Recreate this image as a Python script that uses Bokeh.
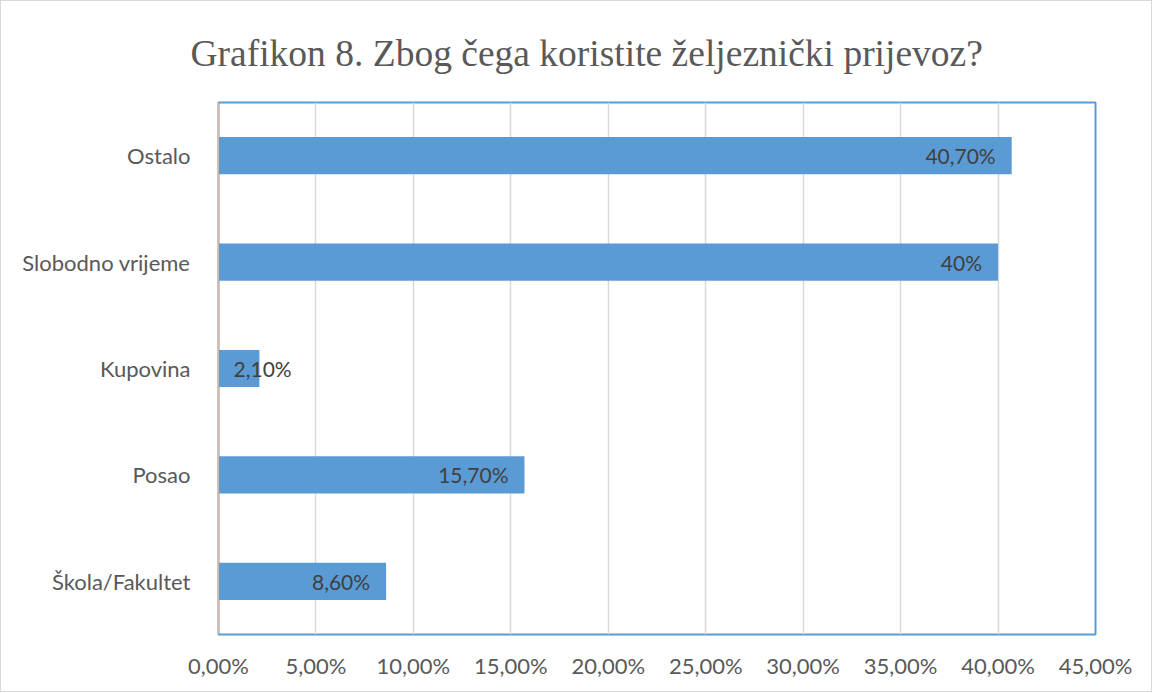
from bokeh.plotting import figure
from bokeh.models import ColumnDataSource, FactorRange, FixedTicker, Range1d, Title
from bokeh.core.properties import value
from bokeh.embed import file_html
from bokeh.resources import INLINE

title_text = "Grafikon 8. Zbog čega koristite željeznički prijevoz?"
categories = ["Škola/Fakultet", "Posao", "Kupovina", "Slobodno vrijeme", "Ostalo"]
values = [8.6, 15.7, 2.1, 40.0, 40.7]
value_labels = ["8,60%", "15,70%", "2,10%", "40%", "40,70%"]
x_ticks = [0, 5, 10, 15, 20, 25, 30, 35, 40, 45]
x_tick_labels = ["0,00%", "5,00%", "10,00%", "15,00%", "20,00%", "25,00%",
                 "30,00%", "35,00%", "40,00%", "45,00%"]

W, H = 1152, 692
p = figure(width=W, height=H, y_range=FactorRange(*categories),
           x_range=Range1d(0, 45), output_backend="svg", toolbar_location=None,
           min_border_left=217, min_border_right=58, min_border_bottom=59,
           min_border_top=100)
p.styles = {"border": "1px solid #d9d9d9", "box-sizing": "border-box"}

p.add_layout(Title(text=title_text,
                   align="left", offset=-28, text_font="Liberation Serif",
                   text_font_size="37.5px", text_font_style="normal",
                   text_color="#595959", standoff=58), "above")

inside = [v >= 5 for v in values]
src_in = ColumnDataSource(dict(
    y=[c for c, k in zip(categories, inside) if k],
    x=[v for v, k in zip(values, inside) if k],
    t=[t for t, k in zip(value_labels, inside) if k]))
src_out = ColumnDataSource(dict(
    y=[c for c, k in zip(categories, inside) if not k],
    x=[0 for v, k in zip(values, inside) if not k],
    t=[t for t, k in zip(value_labels, inside) if not k]))

p.hbar(y=categories, right=values, left=0, height=0.35,
       fill_color="#5b9bd5", line_color=None)

p.text(x="x", y="y", text="t", source=src_in, text_align="right",
       text_baseline="middle", x_offset=-16, text_font=value("Lato"),
       text_font_size="21px", text_color="#404040")
p.text(x="x", y="y", text="t", source=src_out, text_align="left",
       text_baseline="middle", x_offset=15, text_font=value("Lato"),
       text_font_size="21px", text_color="#404040")

p.outline_line_color = "#5b9bd5"
p.outline_line_width = 2

p.xaxis.ticker = FixedTicker(ticks=x_ticks)
p.xaxis.major_label_overrides = {t: l for t, l in zip(x_ticks, x_tick_labels)}
for ax in (p.xaxis[0], p.yaxis[0]):
    ax.major_tick_line_color = None
    ax.minor_tick_line_color = None
    ax.major_label_text_font = "Lato"
    ax.major_label_text_font_size = "22px"
    ax.major_label_text_color = "#595959"
p.xaxis.axis_line_color = None
p.xaxis.major_label_standoff = 11
p.yaxis.axis_line_color = "#bfbfbf"
p.yaxis.major_label_standoff = 22

p.xgrid.grid_line_color = "#d9d9d9"
p.xgrid.grid_line_width = 1.5
p.ygrid.grid_line_color = None

open("out.html", "w").write(file_html(p, INLINE))
